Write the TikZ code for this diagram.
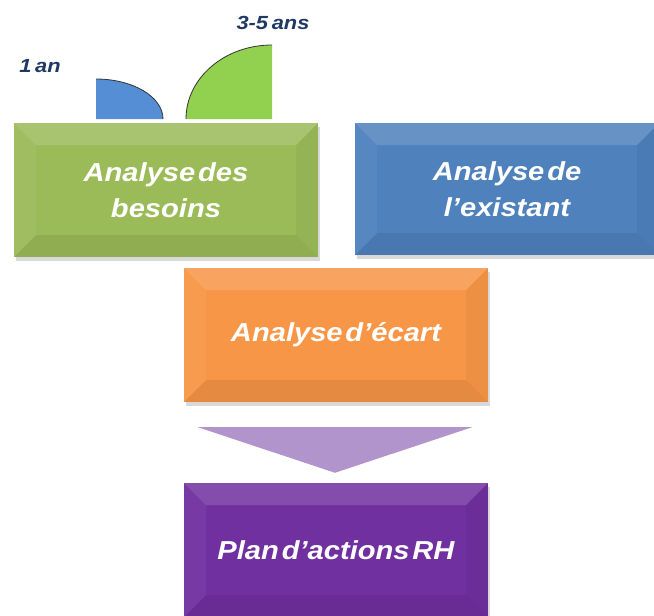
\documentclass[tikz,border=0pt]{standalone}
\usepackage{fontspec}
\usetikzlibrary{shadows,calc}
\newfontfamily\boxfamily[FakeStretch=1.12,WordSpace=0.35]{Liberation Sans}
\newfontfamily\labfamily[FakeStretch=1.15,WordSpace=0.6]{Liberation Sans}
\definecolor{cgreen}{HTML}{9BBB59}
\definecolor{cblue}{HTML}{4F81BD}
\definecolor{corange}{HTML}{F79646}
\definecolor{cpurple}{HTML}{7030A0}
\definecolor{ctri}{HTML}{B294CC}
\definecolor{qblue}{HTML}{558ED5}
\definecolor{qgreen}{HTML}{92D050}
\definecolor{navy}{RGB}{31,56,100}
\tikzset{
  bevelbox/.style={rectangle, minimum width=304pt, minimum height=134pt, inner sep=0pt,
    text=white, align=center, fill=#1,
    font=\boxfamily\bfseries\itshape\fontsize{26}{36}\selectfont,
    drop shadow={shadow xshift=2pt, shadow yshift=-4pt, opacity=.3},
    path picture={
      \coordinate (pnw) at (path picture bounding box.north west);
      \coordinate (pne) at (path picture bounding box.north east);
      \coordinate (psw) at (path picture bounding box.south west);
      \coordinate (pse) at (path picture bounding box.south east);
      \coordinate (inw) at ([shift={(22pt,-22pt)}]pnw);
      \coordinate (ine) at ([shift={(-22pt,-22pt)}]pne);
      \coordinate (isw) at ([shift={(22pt,22pt)}]psw);
      \coordinate (ise) at ([shift={(-22pt,22pt)}]pse);
      \fill[white,opacity=.14] (pnw) -- (pne) -- (ine) -- (inw) -- cycle;
      \fill[black,opacity=.07] (psw) -- (pse) -- (ise) -- (isw) -- cycle;
      \fill[white,opacity=.05] (pnw) -- (inw) -- (isw) -- (psw) -- cycle;
      \fill[black,opacity=.04] (pne) -- (ine) -- (ise) -- (pse) -- cycle;
    }},
  yearlabel/.style={text=navy, font=\labfamily\bfseries\itshape\fontsize{19}{20}\selectfont, inner sep=0pt},
  arcline/.style={draw=black!80, line width=0.8pt}
}
\begin{document}
\begin{tikzpicture}[x=1pt,y=-1pt]
\useasboundingbox (0,0) rectangle (654,616);
% quarter pies
\fill[qblue] (96,119) -- (96,79) arc[start angle=90, end angle=0, x radius=67pt, y radius=40pt] -- cycle;
\draw[arcline] (96,79) arc[start angle=90, end angle=0, x radius=67pt, y radius=40pt];
\fill[qgreen] (272,119) -- (186,119) arc[start angle=180, end angle=90, x radius=86pt, y radius=74pt] -- cycle;
\draw[arcline] (186,119) arc[start angle=180, end angle=90, x radius=86pt, y radius=74pt];
\node[yearlabel] (l1) at (40,66) {1 an};
\node[yearlabel] (l2) at (273,23) {3-5 ans};
% boxes
\node[bevelbox=cgreen] (besoins) at (166,190) {Analyse des\\besoins};
\node[bevelbox=cblue, minimum height=132pt] (existant) at (507,189) {Analyse de\\l’existant};
\node[bevelbox=corange] (ecart) at (336,335) {Analyse d’écart};
\node[bevelbox=cpurple] (plan) at (336,550) {Plan d’actions RH};
% arrow triangle
\fill[ctri] ($(ecart.south)+(-138,25)$) -- ($(ecart.south)+(136,25)$) -- ($(plan.north)+(-1,-10)$) -- cycle;
\end{tikzpicture}
\end{document}
